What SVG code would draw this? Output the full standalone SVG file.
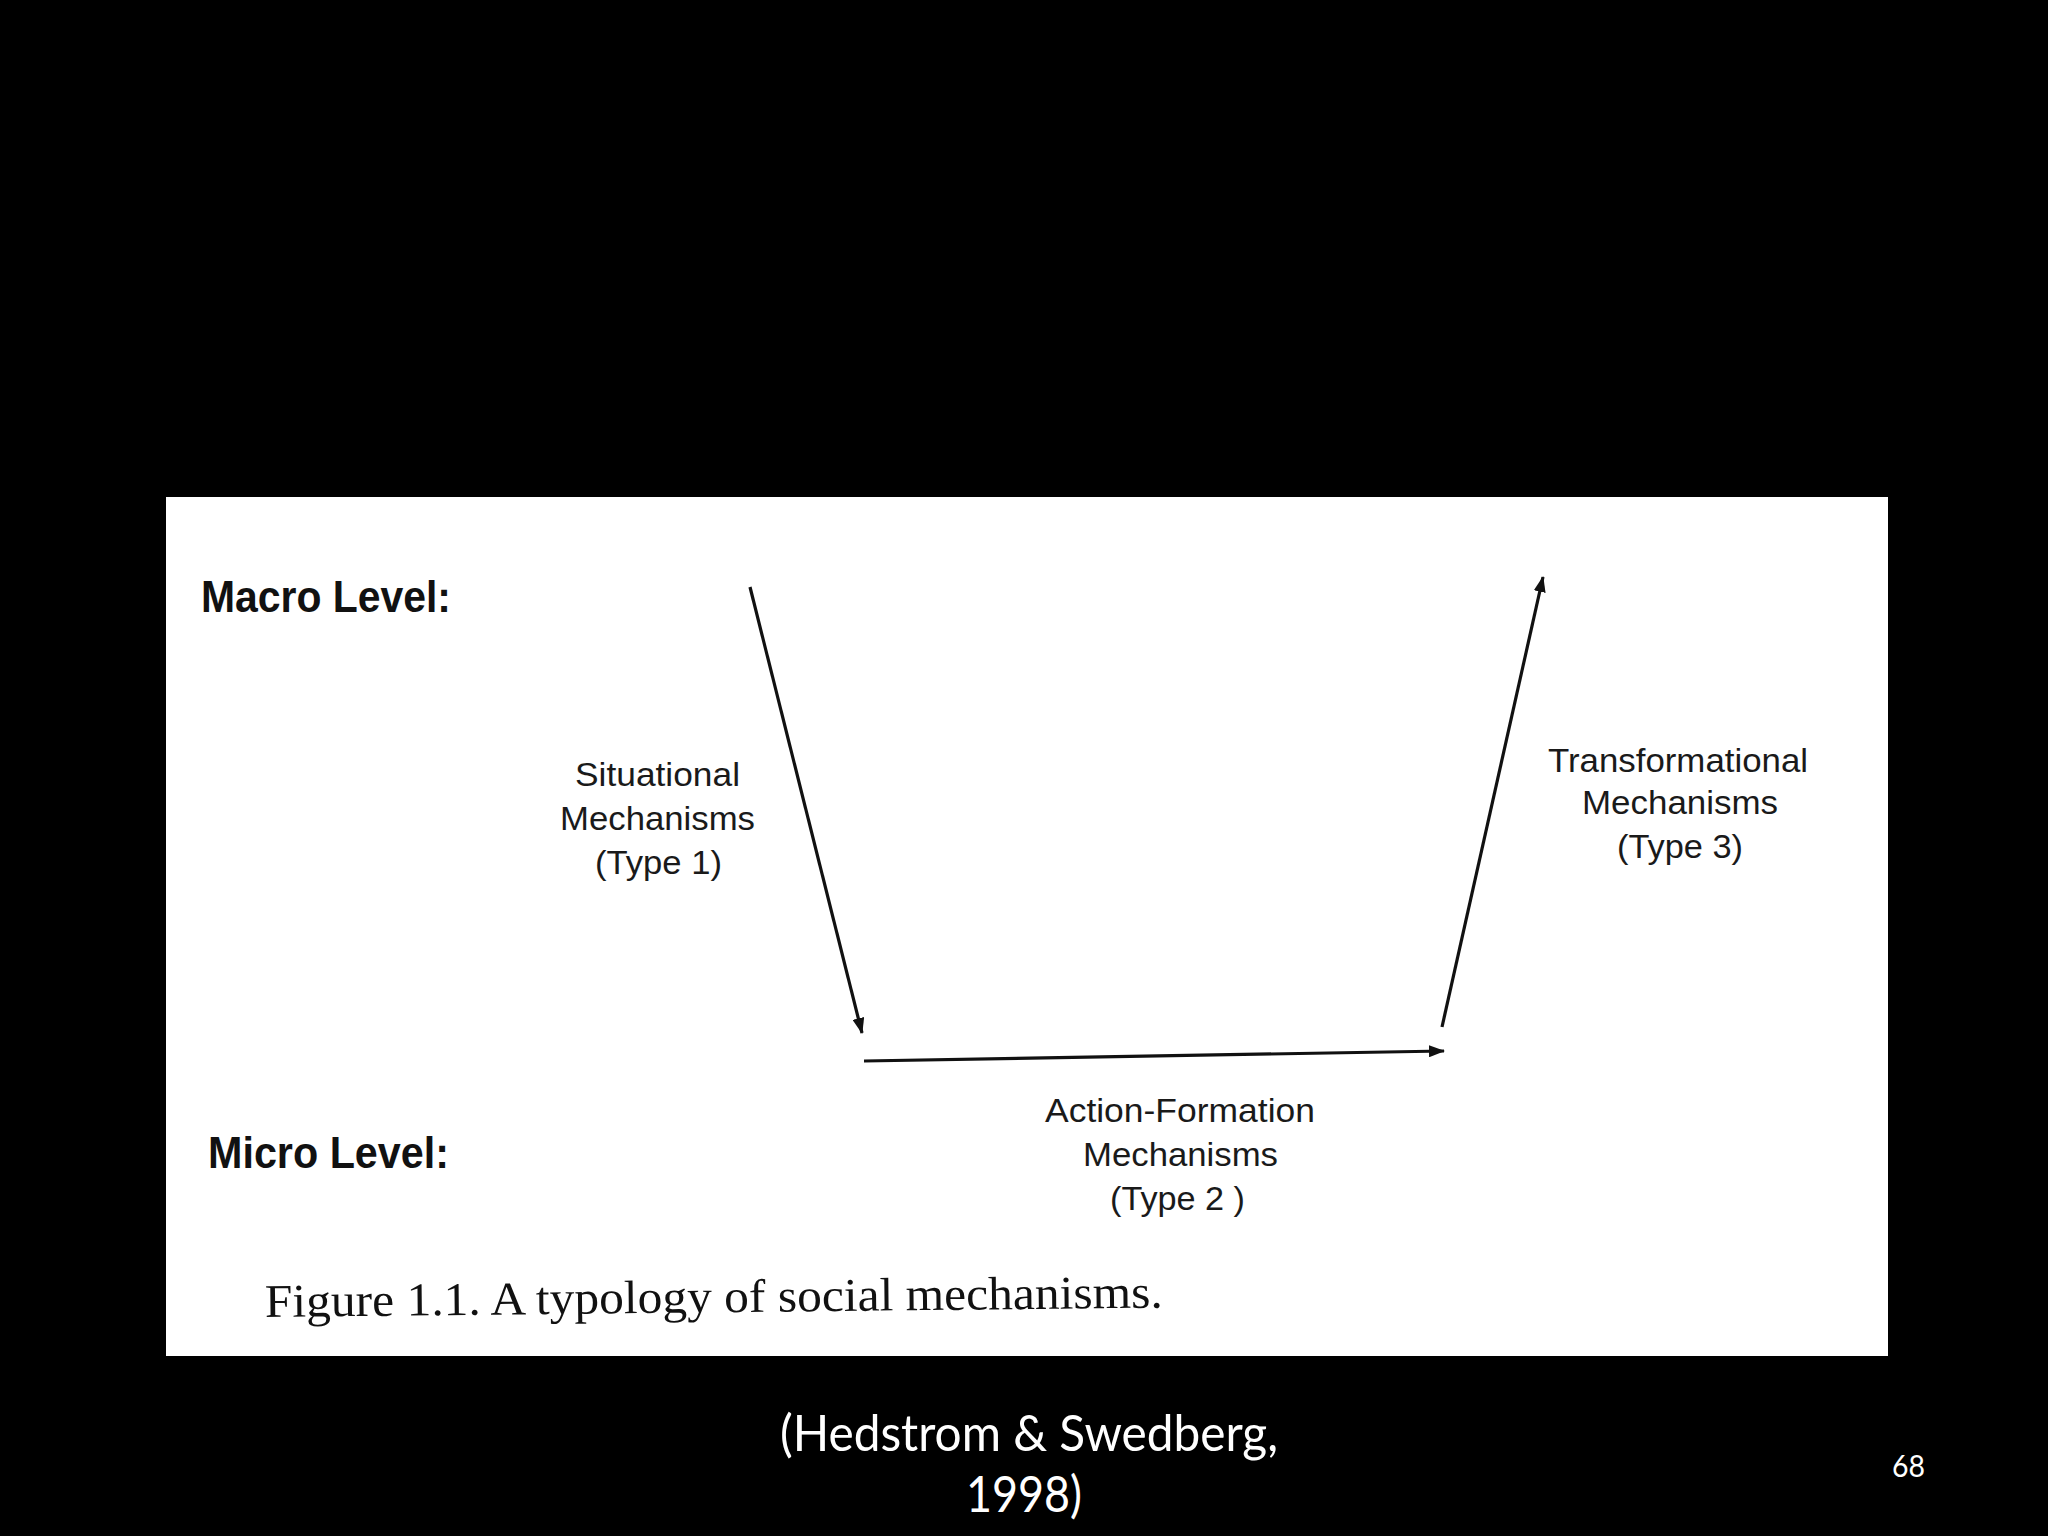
<svg xmlns="http://www.w3.org/2000/svg" width="2048" height="1536" viewBox="0 0 2048 1536">
<style>
.lvl{font-family:"Liberation Sans",Arial,sans-serif;font-weight:bold;font-size:45px;fill:#111}
.lab{font-family:"Liberation Sans",Arial,sans-serif;font-size:33px;fill:#1a1a1a}
.cap{font-family:"Liberation Serif","Times New Roman",serif;font-size:47px;fill:#111}
.cite{font-family:Lato,"Open Sans",sans-serif;font-size:50px;fill:#fff}
.num{font-family:Lato,"Open Sans",sans-serif;font-size:30px;fill:#fff}
.conn{stroke:#111;stroke-width:3.2;fill:none;marker-end:url(#ah)}
</style>
<defs>
<marker id="ah" markerUnits="userSpaceOnUse" markerWidth="16" markerHeight="12" refX="15" refY="6" orient="auto">
<path d="M0,0 L16,6 L0,12 z" fill="#111"/>
</marker>
</defs>
<rect x="0" y="0" width="2048" height="1536" fill="#000"/>
<rect id="panel" x="166" y="497" width="1722" height="859" fill="#fff"/>
<g id="macro-level"><text class="lvl" x="201" y="612" textLength="250" lengthAdjust="spacingAndGlyphs">Macro Level:</text></g>
<g id="micro-level"><text class="lvl" x="208" y="1168" textLength="241" lengthAdjust="spacingAndGlyphs">Micro Level:</text></g>
<g id="connectors">
<line id="type1" class="conn" x1="750" y1="587" x2="862" y2="1033"/>
<line id="type2" class="conn" x1="864" y1="1061" x2="1444" y2="1051"/>
<line id="type3" class="conn" x1="1442" y1="1027" x2="1543" y2="577"/>
</g>
<g id="situational">
<text class="lab" x="575" y="786" textLength="165" lengthAdjust="spacingAndGlyphs">Situational</text>
<text class="lab" x="560" y="830" textLength="195" lengthAdjust="spacingAndGlyphs">Mechanisms</text>
<text class="lab" x="595" y="874" textLength="127" lengthAdjust="spacingAndGlyphs">(Type 1)</text>
</g>
<g id="transformational">
<text class="lab" x="1548" y="772" textLength="260" lengthAdjust="spacingAndGlyphs">Transformational</text>
<text class="lab" x="1582" y="814" textLength="196" lengthAdjust="spacingAndGlyphs">Mechanisms</text>
<text class="lab" x="1617" y="858" textLength="126" lengthAdjust="spacingAndGlyphs">(Type 3)</text>
</g>
<g id="action-formation">
<text class="lab" x="1045" y="1122" textLength="270" lengthAdjust="spacingAndGlyphs">Action-Formation</text>
<text class="lab" x="1083" y="1166" textLength="195" lengthAdjust="spacingAndGlyphs">Mechanisms</text>
<text class="lab" x="1110" y="1210" textLength="135" lengthAdjust="spacingAndGlyphs">(Type 2 )</text>
</g>
<g id="caption"><text class="cap" x="265" y="1317" textLength="898" lengthAdjust="spacingAndGlyphs" transform="rotate(-0.6 265 1317)">Figure 1.1. A typology of social mechanisms.</text></g>
<g id="citation">
<text class="cite" x="780" y="1451" textLength="498" lengthAdjust="spacingAndGlyphs">(Hedstrom &amp; Swedberg,</text>
<text class="cite" x="966" y="1512" textLength="116" lengthAdjust="spacingAndGlyphs">1998)</text>
</g>
<g id="page-number"><text class="num" x="1892" y="1477" textLength="33" lengthAdjust="spacingAndGlyphs">68</text></g>
</svg>
